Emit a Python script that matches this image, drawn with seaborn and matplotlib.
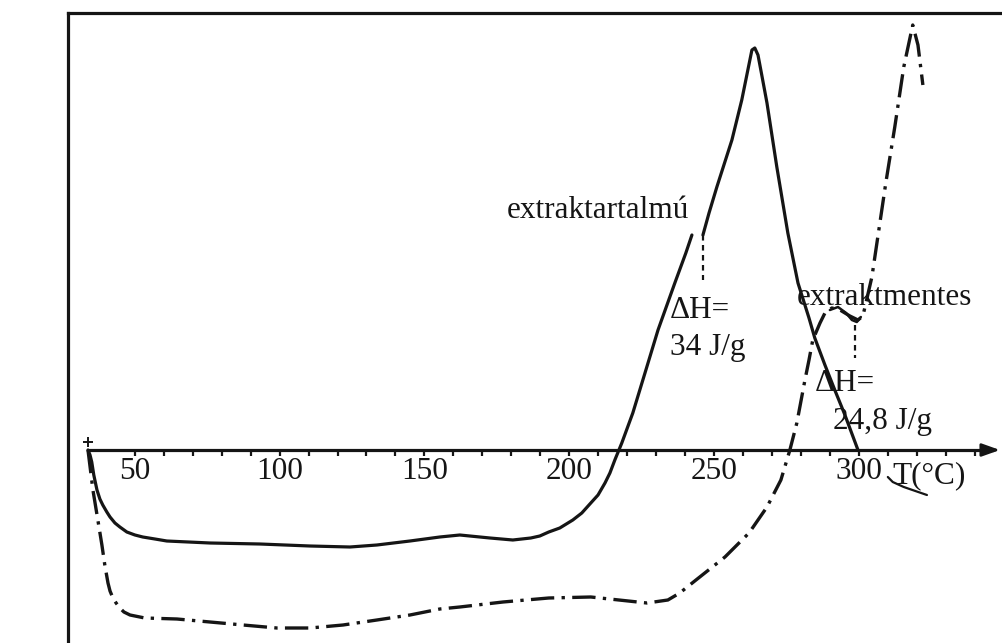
import matplotlib
matplotlib.use("Agg")
import matplotlib.pyplot as plt
import seaborn as sns

# DSC heating curves: heat flow (mW) against temperature (°C)

# extract-containing sample, up to the shoulder
temp_extract_a = [33.9, 34.6, 35.2, 35.9, 37.0, 38.0, 39.0, 40.4, 41.5, 43.2,
                  44.9, 47.3, 50.1, 52.8, 57.0, 61.1, 76.0, 93.2, 110.5, 124.3,
                  133.6, 145.0, 155.3, 162.2, 172.6, 180.5, 186.7, 189.8, 192.9, 196.7,
                  201.2, 204.3, 207.4, 209.9, 212.3, 214.0, 215.7, 218.1, 221.9, 226.1,
                  230.6, 236.4, 240.2, 242.3]
heat_extract_a = [0.0, -0.5, -1.2, -2.5, -4.0, -4.9, -5.5, -6.2, -6.7, -7.3,
                  -7.7, -8.2, -8.5, -8.7, -8.9, -9.1, -9.3, -9.4, -9.6, -9.7,
                  -9.5, -9.1, -8.7, -8.5, -8.8, -9.0, -8.8, -8.6, -8.2, -7.8,
                  -7.0, -6.3, -5.3, -4.5, -3.3, -2.3, -1.0, 0.7, 3.7, 7.7,
                  12.0, 16.7, 19.7, 21.5]

# extract-containing sample, from the shoulder over the melting peak
temp_extract_b = [246.1, 248.2, 250.9, 256.1, 259.5, 261.6, 263.0, 264.0, 265.1, 266.4,
                  268.2, 271.6, 275.4, 278.9, 282.7, 284.7, 288.2, 291.6, 295.1, 299.6]
heat_extract_b = [21.5, 23.7, 26.3, 31.0, 35.0, 38.0, 40.0, 40.2, 39.5, 37.5,
                  34.7, 28.3, 21.7, 16.7, 13.2, 11.2, 8.5, 6.0, 3.5, 0.0]

# extract-free sample
temp_free = [33.9, 35.6, 37.3, 38.7, 39.7, 40.8, 41.5, 42.5, 43.6, 44.9,
             46.3, 48.4, 53.5, 64.6, 76.0, 87.4, 99.1, 110.5, 121.9, 133.6,
             145.0, 155.3, 162.2, 177.1, 192.9, 207.4, 217.1, 226.8, 234.0, 238.1,
             243.7, 253.7, 262.0, 268.2, 273.0, 276.1, 278.5, 281.3, 282.7, 284.0,
             286.5, 288.2, 290.6, 293.4, 296.8, 299.6, 301.3, 304.4, 309.2, 312.3,
             315.4, 318.5, 320.3, 322.0]
heat_free = [0.0, -4.0, -7.0, -9.5, -11.5, -13.3, -14.1, -14.8, -15.3, -15.8,
             -16.2, -16.5, -16.8, -16.9, -17.2, -17.5, -17.8, -17.8, -17.5, -17.0,
             -16.5, -15.9, -15.7, -15.2, -14.8, -14.7, -15.0, -15.3, -15.0, -14.3,
             -13.0, -10.7, -8.3, -5.7, -3.0, 0.0, 2.7, 7.0, 9.0, 11.0,
             12.7, 13.7, 14.2, 14.0, 13.4, 13.0, 13.4, 17.3, 26.7, 32.3,
             38.3, 42.5, 40.5, 36.5]

# shoulder bracket on the extract-free curve
temp_bracket = [289.9, 292.7, 295.5, 297.5, 299.2, 300.6]
heat_bracket = [14.0, 14.3, 13.7, 13.0, 12.8, 13.3]

# hook drawn under the axis unit
temp_hook = [309.9, 311.6, 315.4, 323.4]
heat_hook = [-2.7, -3.2, -3.7, -4.5]

# onset markers: temperature, top, bottom
onset_extract = [246.1, 21.5, 17.0]
onset_free = [298.5, 12.5, 9.2]

tick_temps = [50, 100, 150, 200, 250, 300]
tick_labels = ["50", "100", "150", "200", "250", "300"]
minor_temps = list(range(60, 341, 10))

label_extract = "extraktartalmú"
label_free = "extraktmentes"
dh_prefix = "ΔH="
dh_extract = "34 J/g"
dh_free = "24,8 J/g"
x_unit = "T(°C)"
y_title = "hőáram (mW)"

sns.set_theme(style="white")
plt.rcParams["font.family"] = ["Liberation Serif", "DejaVu Serif"]

ink = "#151515"
fs = 22.5
round_joins = dict(solid_joinstyle="round", solid_capstyle="round",
                   dash_joinstyle="round")

fig = plt.figure(figsize=(10.02, 6.43), dpi=100)
ax = fig.add_axes([68 / 1002, 0.0, 934 / 1002, 630 / 643])
ax.set_xlim(27.0, 349.3)
ax.set_ylim(-19.3, 43.7)

# frame: left and top only; the temperature axis runs through zero heat flow
ax.spines["right"].set_visible(False)
for side in ("left", "top"):
    ax.spines[side].set_color(ink)
    ax.spines[side].set_linewidth(2.3)
ax.spines["bottom"].set_position(("data", 0))
ax.spines["bottom"].set_bounds(33.9, 346.0)
ax.spines["bottom"].set_color(ink)
ax.spines["bottom"].set_linewidth(2.3)
ax.annotate("", xy=(348.6, 0), xytext=(342.0, 0),
            arrowprops=dict(arrowstyle="-|>,head_length=0.9,head_width=0.32",
                            color=ink, lw=2.0, shrinkA=0, shrinkB=0))

ax.set_xticks(tick_temps)
ax.set_xticklabels(tick_labels)
ax.set_xticks(minor_temps, minor=True)
ax.tick_params(axis="x", which="both", bottom=True, direction="out",
               length=4, width=1.6, color=ink, labelsize=fs, labelcolor=ink, pad=1)
ax.set_yticks([])
ax.set_xlabel("")

# curves
sns.lineplot(x=temp_extract_a, y=heat_extract_a, ax=ax, color=ink, lw=2.3,
             sort=False, estimator=None, **round_joins)
sns.lineplot(x=temp_extract_b, y=heat_extract_b, ax=ax, color=ink, lw=2.3,
             sort=False, estimator=None, **round_joins)
sns.lineplot(x=temp_free, y=heat_free, ax=ax, color=ink, lw=2.4,
             sort=False, estimator=None, linestyle=(0, (7, 2.2, 1, 2.2)), **round_joins)
sns.lineplot(x=temp_bracket, y=heat_bracket, ax=ax, color=ink, lw=1.8,
             sort=False, estimator=None, **round_joins)
sns.lineplot(x=temp_hook, y=heat_hook, ax=ax, color=ink, lw=1.6,
             sort=False, estimator=None, **round_joins)

# onset markers
for t, top, bottom in (onset_extract, onset_free):
    ax.plot([t, t], [top, bottom], color=ink, lw=1.6, linestyle=(0, (2.5, 2.0)))

# start mark
ax.plot([temp_extract_a[0]], [0.8], marker="+", markersize=7, mew=1.4, color=ink)

# annotations
ax.text(241.3, 23.2, label_extract, fontsize=fs, color=ink, ha="right", va="baseline")
ax.text(234.7, 13.2, dh_prefix, fontsize=fs, color=ink, ha="left", va="baseline")
ax.text(234.7, 9.5, dh_extract, fontsize=fs, color=ink, ha="left", va="baseline")
ax.text(278.5, 14.5, label_free, fontsize=fs, color=ink, ha="left", va="baseline")
ax.text(284.7, 5.9, dh_prefix, fontsize=fs, color=ink, ha="left", va="baseline")
ax.text(290.9, 2.1, dh_free, fontsize=fs, color=ink, ha="left", va="baseline")
ax.text(311.6, -3.3, x_unit, fontsize=fs, color=ink, ha="left", va="baseline")

ax.set_ylabel(y_title, fontsize=26, color=ink)
ax.yaxis.set_label_coords(-0.024, 0.43)

fig.savefig("out.png", dpi=100)
